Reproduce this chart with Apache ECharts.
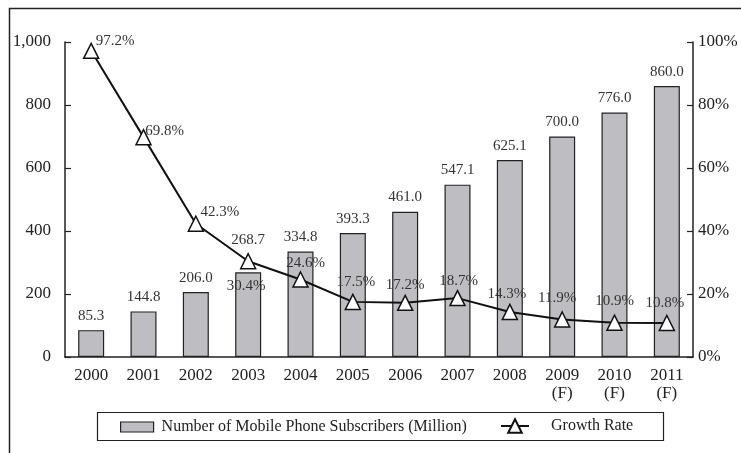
<!DOCTYPE html>
<html>
<head>
<meta charset="utf-8">
<script src="https://cdn.jsdelivr.net/npm/echarts@6/dist/echarts.min.js"></script>
<style>html,body{margin:0;padding:0;background:#fff;}#c{width:741px;height:453px;}</style>
</head>
<body>
<div id="c"></div>
<script>
var years = ['2000','2001','2002','2003','2004','2005','2006','2007','2008','2009\n(F)','2010\n(F)','2011\n(F)'];
var subscribers = [85.3,144.8,206.0,268.7,334.8,393.3,461.0,547.1,625.1,700.0,776.0,860.0];
var growth = [97.2,69.8,42.3,30.4,24.6,17.5,17.2,18.7,14.3,11.9,10.9,10.8];
var leftTicks = {min:0,max:1000,interval:200};
var rightTicks = {min:0,max:100,interval:20};
// label offsets (style only)
var growthLabelOffsets = [[24,-10],[21,-6],[24,-12],[-2,25],[5,-16],[3,-20],[0,-18],[1,-17],[-3,-18],[-5,-21],[0,-22],[-2,-20]];
var barLabelOffsets = [[0,0],[0,0],[0,0],[0,-18],[0,0],[0,0],[0,0],[0,0],[0,0],[0,0],[0,0],[0,0]];

var FONT = '"Liberation Serif","Times New Roman",serif';
var chart = echarts.init(document.getElementById('c'));
chart.setOption({
  animation:false,
  backgroundColor:'#fff',
  textStyle:{fontFamily:FONT,color:'#222'},
  graphic:[
    {type:'rect',shape:{x:9.5,y:8.5,width:800,height:500},style:{fill:'none',stroke:'#222',lineWidth:1.5},silent:true},
    {type:'rect',shape:{x:97.5,y:412.5,width:566,height:28},style:{fill:'none',stroke:'#222',lineWidth:1.2},silent:true}
  ],
  grid:{left:65,right:48,top:42,bottom:96},
  legend:[{
    left:120,top:419,padding:0,
    itemWidth:33,itemHeight:10,icon:'rect',
    itemStyle:{borderColor:'#222',borderWidth:1.2},
    textStyle:{fontFamily:FONT,fontSize:16,color:'#222',padding:[0,0,0,3]},
    data:['Number of Mobile Phone Subscribers (Million)']
  },{
    left:500,top:418,padding:0,
    itemWidth:28,itemHeight:17,
    textStyle:{fontFamily:FONT,fontSize:16,color:'#222',padding:[0,0,0,17]},
    data:['Growth Rate']
  }],
  xAxis:{
    type:'category',data:years,
    axisLine:{lineStyle:{color:'#222',width:1.5}},
    axisTick:{show:false},
    axisLabel:{fontFamily:FONT,fontSize:17,color:'#222',margin:10,lineHeight:18,interval:0}
  },
  yAxis:[{
    type:'value',min:leftTicks.min,max:leftTicks.max,interval:leftTicks.interval,
    splitLine:{show:false},
    axisLine:{show:true,lineStyle:{color:'#222',width:1.5}},
    axisTick:{show:true,inside:true,length:6,lineStyle:{color:'#222',width:1.2}},
    axisLabel:{fontFamily:FONT,fontSize:17,color:'#222',margin:14,formatter:function(v){return v.toLocaleString('en-US');}}
  },{
    type:'value',min:rightTicks.min,max:rightTicks.max,interval:rightTicks.interval,
    splitLine:{show:false},
    axisLine:{show:true,lineStyle:{color:'#222',width:1.5}},
    axisTick:{show:true,inside:true,length:6,lineStyle:{color:'#222',width:1.2}},
    axisLabel:{fontFamily:FONT,fontSize:17,color:'#222',margin:5,formatter:'{value}%'}
  }],
  series:[{
    name:'Number of Mobile Phone Subscribers (Million)',
    type:'bar',barWidth:26,
    data:subscribers.map(function(v,i){return {value:v,label:{offset:barLabelOffsets[i]}};}),
    itemStyle:{color:'#bebec2',borderColor:'#222',borderWidth:1.2},
    label:{show:true,position:'top',distance:7,fontFamily:FONT,fontSize:15,color:'#333',formatter:function(p){return p.value.toFixed(1);}}
  },{
    name:'Growth Rate',type:'line',yAxisIndex:1,
    data:growth.map(function(v,i){return {value:v,label:{offset:growthLabelOffsets[i]}};}),
    symbol:'triangle',symbolSize:15,
    lineStyle:{color:'#111',width:2},
    itemStyle:{color:'#fff',borderColor:'#111',borderWidth:1.5},
    label:{show:true,position:'inside',fontFamily:FONT,fontSize:15,color:'#333',formatter:function(p){return p.value.toFixed(1)+'%';}},
    z:5
  }]
});
</script>
</body>
</html>
